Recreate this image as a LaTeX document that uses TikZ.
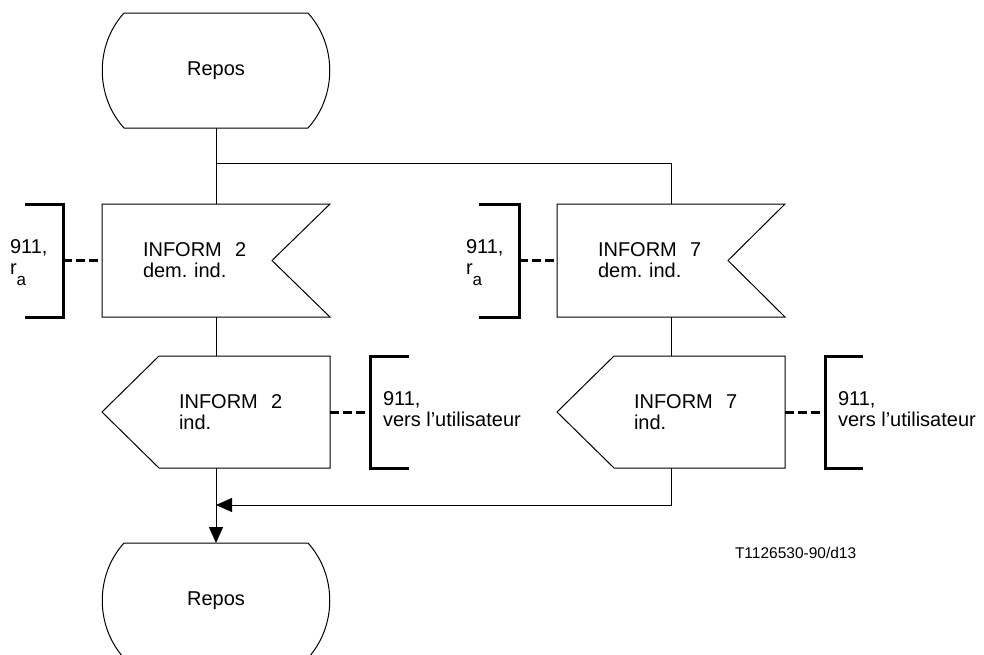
\documentclass[tikz,border=0pt]{standalone}
\usepackage{fontspec}
\setmainfont{Liberation Sans}
\usetikzlibrary{arrows.meta}
\frenchspacing

\tikzset{
  every node/.style={font=\fontsize{20}{21}\selectfont},
  geom/.style={draw=none, inner sep=0pt, outer sep=0pt},
  flow/.style={line width=1pt},
  brack/.style={line width=3pt},
  link/.style={line width=3pt, dash pattern=on 9pt off 4pt},
  tip/.style={-{Triangle[length=16pt,width=14pt]}},
}

\begin{document}
\begin{tikzpicture}[x=1pt,y=-1pt]
\clip (0,0) rectangle (984,654);

% states
\node[geom, minimum width=184pt, minimum height=115pt] (idle1) at (216,70.5) {Repos};
\node[geom, minimum width=184pt, minimum height=115pt] (idle2) at (216,600.5) {Repos};
\draw[flow] (idle1.north west) -- (idle1.north east)
  .. controls +(29,32) and +(29,-32) .. (idle1.south east) -- (idle1.south west)
  .. controls +(-29,-32) and +(-29,32) .. (idle1.north west);
\draw[flow] (idle2.north west) -- (idle2.north east)
  .. controls +(29,32) and +(29,-32) .. (idle2.south east) -- (idle2.south west)
  .. controls +(-29,-32) and +(-29,32) .. (idle2.north west);

% inputs
\node[geom, minimum width=228pt, minimum height=113pt, inner xsep=41pt, text width=146pt, align=left] (in2) at (216,260.5) {INFORM~~2\\dem. ind.};
\node[geom, minimum width=228pt, minimum height=113pt, inner xsep=41pt, text width=146pt, align=left] (in7) at (671,260.5) {INFORM~~7\\dem. ind.};
\draw[flow] (in2.north west) -- (in2.north east) -- ([xshift=-58pt]in2.east) -- (in2.south east) -- (in2.south west) -- cycle;
\draw[flow] (in7.north west) -- (in7.north east) -- ([xshift=-57pt]in7.east) -- (in7.south east) -- (in7.south west) -- cycle;

% outputs
\node[geom, minimum width=171pt, minimum height=112pt, inner xsep=20pt, text width=131pt, align=left] (out2) at (244.5,412) {INFORM~~2\\ind.};
\node[geom, minimum width=171pt, minimum height=112pt, inner xsep=20pt, text width=131pt, align=left] (out7) at (699.5,412) {INFORM~~7\\ind.};
\draw[flow] (out2.north west) -- (out2.north east) -- (out2.south east) -- (out2.south west) -- ([xshift=-57pt]out2.west) -- cycle;
\draw[flow] (out7.north west) -- (out7.north east) -- (out7.south east) -- (out7.south west) -- ([xshift=-57pt]out7.west) -- cycle;

% comments
\node[geom, minimum width=38pt, minimum height=113pt] (br2) at (44,260.5) {};
\node[geom, minimum width=40pt, minimum height=113pt] (br7) at (499,260.5) {};
\node[geom, minimum width=39pt, minimum height=112pt] (br2o) at (389.5,412) {};
\node[geom, minimum width=38pt, minimum height=112pt] (br7o) at (844,412) {};
\draw[brack] (br2.north west) -- (br2.north east) -- (br2.south east) -- (br2.south west);
\draw[brack] (br7.north west) -- (br7.north east) -- (br7.south east) -- (br7.south west);
\draw[brack] (br2o.north east) -- (br2o.north west) -- (br2o.south west) -- (br2o.south east);
\draw[brack] (br7o.north east) -- (br7o.north west) -- (br7o.south west) -- (br7o.south east);
\node[geom, anchor=west, align=left] (c2) at (10,263) {911,\\r\raisebox{-11pt}{\fontsize{17}{17}\selectfont a}};
\node[geom, anchor=west, align=left] (c7) at (466,263) {911,\\r\raisebox{-11pt}{\fontsize{17}{17}\selectfont a}};
\node[geom, anchor=west, align=left] (c2o) at (383,409) {911,\\vers l’utilisateur};
\node[geom, anchor=west, align=left] (c7o) at (838,409) {911,\\vers l’utilisateur};
\draw[link] (br2.east) -- (in2.west);
\draw[link] (br7.east) -- (in7.west);
\draw[link] (out2.east) -- (br2o.west);
\draw[link] (out7.east) -- (br7o.west);

% flow lines
\coordinate (fork) at (216,163);
\coordinate (join) at (216,505);
\draw[flow] (idle1.south) -- (in2.north);
\draw[flow] (fork) -| (in7.north);
\draw[flow] (in2.south) -- (in2.south |- out2.north);
\draw[flow] (in7.south) -- (in7.south |- out7.north);
\draw[flow, tip] (in2.south |- out2.south) -- (idle2.north);
\draw[flow, tip] (in7.south |- out7.south) |- (join);

\node[geom, anchor=base west, font=\fontsize{15.5}{18}\selectfont] (fig) at (735,558) {T1126530-90/d13};
\end{tikzpicture}
\end{document}
